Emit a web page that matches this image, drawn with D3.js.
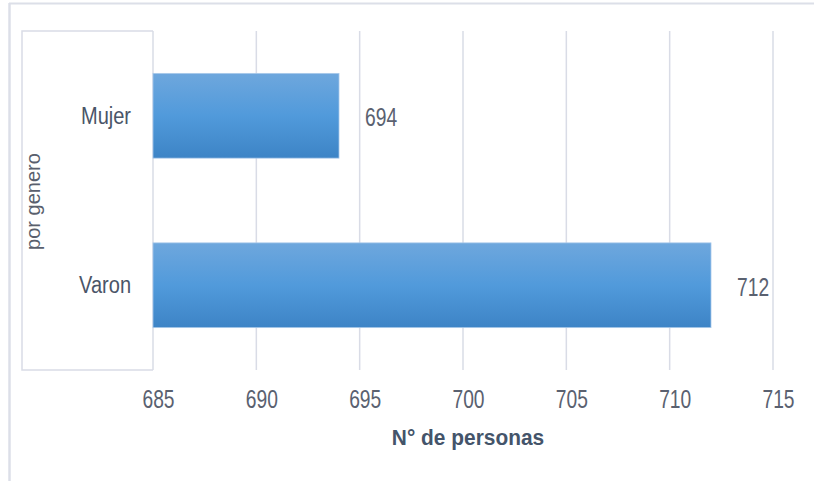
<!DOCTYPE html>
<html>
<head>
<meta charset="utf-8">
<script src="https://cdn.jsdelivr.net/npm/d3@7"></script>
<style>
  html, body { margin: 0; padding: 0; background: #fff; }
  svg { display: block; }
  text { font-family: "Liberation Sans", Arial, sans-serif; }
</style>
</head>
<body>
<svg id="chart" width="814" height="481"></svg>
<script>
const categories = ["Mujer", "Varon"];
const values = [694, 712];
const xTicks = [685, 690, 695, 700, 705, 710, 715];
const xDomain = [685, 715];
const yTitle = "por genero";
const xTitle = "N° de personas";

(function () {
const svg = d3.select("#chart");
const W = 814, H = 481;
const pLeft = 153, pRight = 773, pTop = 31, pBottom = 370;
const numSX = 0.74, catSX = 0.87;

const x = d3.scaleLinear().domain(xDomain).range([pLeft, pRight]);
const y = d3.scaleBand().domain(categories).range([pTop, pBottom]).paddingInner(0.5).paddingOuter(0.25);

// outer border (top and left)
svg.append("line").attr("x1", 9).attr("x2", W).attr("y1", 3.5).attr("y2", 3.5)
  .attr("stroke", "#dcdfe8").attr("stroke-width", 2);
svg.append("line").attr("x1", 9.5).attr("x2", 9.5).attr("y1", 3).attr("y2", H)
  .attr("stroke", "#dcdfe8").attr("stroke-width", 2.5);

// category label box
svg.append("path")
  .attr("d", `M${pLeft},${pTop}H22V${pBottom}H${pLeft}`)
  .attr("fill", "none").attr("stroke", "#d9dce6").attr("stroke-width", 1.5);

// gridlines
svg.append("g").selectAll("line").data(xTicks).join("line")
  .attr("x1", d => x(d)).attr("x2", d => x(d))
  .attr("y1", pTop).attr("y2", pBottom)
  .attr("stroke", "#d9dce6").attr("stroke-width", 1.5);

// gradient
const defs = svg.append("defs");
const grad = defs.append("linearGradient").attr("id", "barGrad")
  .attr("x1", 0).attr("x2", 0).attr("y1", 0).attr("y2", 1);
grad.append("stop").attr("offset", "0%").attr("stop-color", "#6ea7dd");
grad.append("stop").attr("offset", "50%").attr("stop-color", "#519adb");
grad.append("stop").attr("offset", "100%").attr("stop-color", "#3d84c6");

// bars
svg.append("g").selectAll("rect").data(categories).join("rect")
  .attr("x", x(xDomain[0]))
  .attr("y", d => y(d))
  .attr("width", (d, i) => x(values[i]) - x(xDomain[0]))
  .attr("height", y.bandwidth())
  .attr("fill", "url(#barGrad)")
  .attr("stroke", "#a9c9ea").attr("stroke-width", 0.8);

// value labels
svg.append("g").selectAll("text").data(categories).join("text")
  .attr("transform", (d, i) => `translate(${x(values[i]) + 26},${y(d) + y.bandwidth() / 2 + 10.5}) scale(${numSX},1)`)
  .attr("fill", "#5a6170").attr("font-size", 26)
  .text((d, i) => values[i]);

// y axis (category labels)
const yAxis = svg.append("g").attr("transform", `translate(${pLeft},0)`)
  .call(d3.axisLeft(y).tickSize(0).tickPadding(21));
yAxis.select(".domain").remove();
yAxis.selectAll("text")
  .attr("font-size", 23).attr("fill", "#4a5568")
  .attr("font-family", "'Liberation Sans', Arial, sans-serif")
  .attr("x", -22 / catSX).attr("y", 8).attr("dy", 0)
  .attr("transform", `scale(${catSX},1)`);

// x axis
const xAxis = svg.append("g").attr("transform", `translate(0,${pBottom})`)
  .call(d3.axisBottom(x).tickValues(xTicks).tickSize(0).tickPadding(28));
xAxis.select(".domain").remove();
xAxis.selectAll("text")
  .attr("font-size", 26).attr("fill", "#5a6170")
  .attr("font-family", "'Liberation Sans', Arial, sans-serif")
  .attr("x", 5 / numSX).attr("y", 38).attr("dy", 0)
  .attr("transform", `scale(${numSX},1)`);

// axis titles
svg.append("text")
  .attr("transform", `translate(${(pLeft + pRight) / 2 + 5},445) scale(0.95,1)`)
  .attr("text-anchor", "middle")
  .attr("font-size", 22).attr("font-weight", "bold").attr("fill", "#44546a")
  .text(xTitle);

svg.append("text")
  .attr("transform", `translate(39.5,${(pTop + pBottom) / 2 + 1}) rotate(-90)`)
  .attr("text-anchor", "middle")
  .attr("font-size", 20).attr("fill", "#595f6d")
  .text(yTitle);
})();
</script>
</body>
</html>
